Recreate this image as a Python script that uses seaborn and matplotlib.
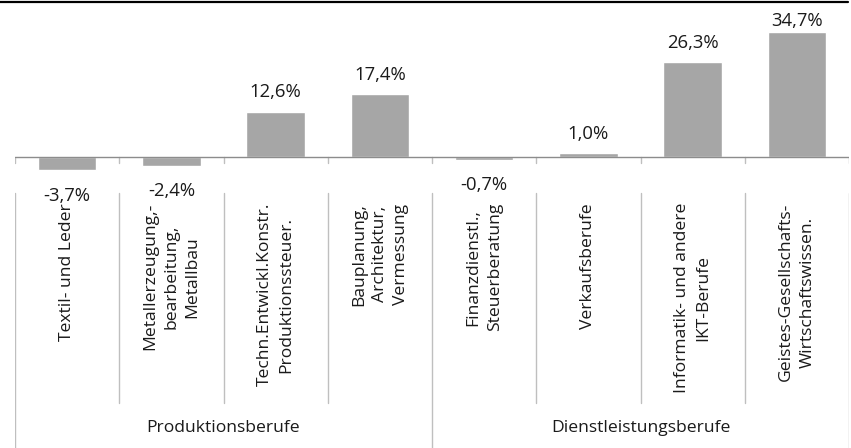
import matplotlib
matplotlib.use("Agg")
import matplotlib.pyplot as plt
from matplotlib.lines import Line2D
import seaborn as sns
import pandas as pd

categories = [
    "Textil- und Leder",
    "Metallerzeugung,-\nbearbeitung,\nMetallbau",
    "Techn.Entwickl.Konstr.\nProduktionssteuer.",
    "Bauplanung,\nArchitektur,\nVermessung",
    "Finanzdienstl.,\nSteuerberatung",
    "Verkaufsberufe",
    "Informatik- und andere\nIKT-Berufe",
    "Geistes-Gesellschafts-\nWirtschaftswissen.",
]
values = [-3.7, -2.4, 12.6, 17.4, -0.7, 1.0, 26.3, 34.7]
groups = ["Produktionsberufe", "Dienstleistungsberufe"]
group_sizes = [4, 4]

sns.set_theme(style="white")
plt.rcParams["font.family"] = ["Open Sans", "DejaVu Sans"]

W, H, DPI = 851, 448, 100
fig = plt.figure(figsize=(W / DPI, H / DPI), dpi=DPI)
ax = fig.add_axes([15 / W, 0, (849 - 15) / W, 1])

df = pd.DataFrame({"cat": categories, "val": values})
sns.barplot(data=df, x="cat", y="val", order=categories, color="#a6a6a6",
            width=0.56, saturation=1, ax=ax, errorbar=None)

PX = 3.6      # pixels per unit
ZERO = 157    # pixel row of zero line
def d(px):
    return (ZERO - px) / PX

ax.set_ylim(d(H), d(0))
ax.set_xlim(-0.5, len(categories) - 0.5)
for s in ax.spines.values():
    s.set_visible(False)
ax.set_xticks([])
ax.set_yticks([])
ax.set_xlabel("")
ax.set_ylabel("")

ax.axhline(0, color="#8c8c8c", lw=1.0, zorder=3)

TXT = "#1a1a1a"
# value labels
for i, v in enumerate(values):
    lab = f"{v:.1f}".replace(".", ",") + "%"
    if v >= 0:
        y = min(v + 3.0, d(30))
        ax.text(i, y, lab, ha="center", va="bottom", fontsize=13.3, color=TXT)
    else:
        y = v - 4.6
        ax.text(i, y, lab, ha="center", va="top", fontsize=13.3, color=TXT)

# category labels
for i, c in enumerate(categories):
    ax.text(i, d(203), c, rotation=90, ha="center", va="top",
            multialignment="center", fontsize=12.6, color=TXT, linespacing=1.42)

# separators & ticks
n = len(categories)
group_edges = [0]
for g in group_sizes:
    group_edges.append(group_edges[-1] + g)
for k in range(n + 1):
    x = k - 0.5
    ax.plot([x, x], [0, d(163)], color="#bfbfbf", lw=1, zorder=2)
    if k in group_edges:
        ax.plot([x, x], [d(193), d(H)], color="#bfbfbf", lw=1, zorder=2)
    else:
        ax.plot([x, x], [d(193), d(403)], color="#bfbfbf", lw=1, zorder=2)

# group labels
for gi, g in enumerate(groups):
    xc = (group_edges[gi] + group_edges[gi + 1]) / 2 - 0.5
    ax.text(xc, d(428), g, ha="center", va="center", fontsize=12.6, color=TXT)

# top rule
fig.add_artist(Line2D([0, 848 / W], [1 - 2 / H, 1 - 2 / H], color="black", lw=1.6,
                      transform=fig.transFigure))

fig.savefig("out.png", dpi=DPI)
